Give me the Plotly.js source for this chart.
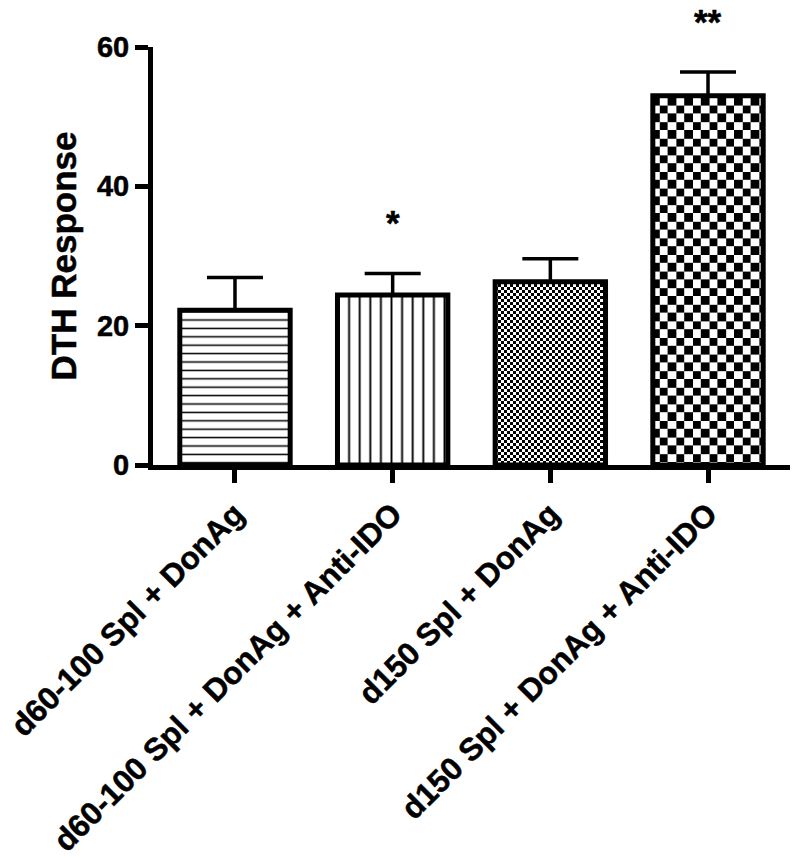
<!DOCTYPE html>
<html>
<head>
<meta charset="utf-8">
<script src="https://cdn.plot.ly/plotly-3.0.1.min.js"></script>
<style>
  html, body { margin: 0; padding: 0; background: #fff; }
  #chart { width: 800px; height: 862px; }
  #chart svg text { stroke: #000; stroke-width: 0.5px; }
</style>
</head>
<body>
<div id="chart"></div>
<script>
// ---- data ----
const categories = [
  "d60-100 Spl + DonAg",
  "d60-100 Spl + DonAg + Anti-IDO",
  "d150 Spl + DonAg",
  "d150 Spl + DonAg + Anti-IDO"
];
const means = [22.2, 24.4, 26.3, 53.0];
const errPlus = [4.7, 3.1, 3.3, 3.4];
const errMinus = [0, 0, 0, 0];
const stars = ["", "*", "", "**"];
const yTicks = [0, 20, 40, 60];

// ---- styles ----
const FONT = "Liberation Sans, Arial, Helvetica, sans-serif";
const patternShapes = ["-", "|", "+", "+"];
const patternSizes = [8.4, 10.6, 6, 16.6];
const checkerSquares = [null, null, 3, 8.3];

const trace = {
  type: "bar",
  x: categories,
  y: means,
  width: 0.7,
  marker: {
    color: "#ffffff",
    line: { color: "#000000", width: 5 },
    pattern: {
      shape: patternShapes,
      size: patternSizes,
      solidity: 0.18,
      fgcolor: "#000000",
      bgcolor: "#ffffff",
      fillmode: "replace"
    }
  },
  error_y: {
    type: "data",
    symmetric: false,
    array: errPlus,
    arrayminus: errMinus,
    color: "#000000",
    thickness: 3.5,
    width: 28
  },
  hoverinfo: "none",
  cliponaxis: false
};

const annotations = categories.map((c, i) => ({
  x: c, y: means[i] + errPlus[i],
  xref: "x", yref: "y",
  text: stars[i],
  showarrow: false,
  yanchor: "bottom",
  yshift: 29,
  font: { family: FONT, size: 35, color: "#000", weight: "bold" }
})).filter(a => a.text);

const layout = {
  width: 800, height: 862,
  margin: { l: 153, r: 10, t: 47, b: 397 },
  paper_bgcolor: "#ffffff",
  plot_bgcolor: "#ffffff",
  showlegend: false,
  font: { family: FONT, color: "#000", weight: "bold" },
  xaxis: {
    type: "category",
    range: [-0.52, 3.52],
    showline: true, linecolor: "#000", linewidth: 5,
    ticks: "outside", ticklen: 13, tickwidth: 5, tickcolor: "#000",
    tickangle: -45,
    tickfont: { family: FONT, size: 31.5, color: "#000", weight: "bold" },
    showgrid: false, zeroline: false,
    fixedrange: true
  },
  yaxis: {
    range: [0, 60],
    tickvals: yTicks,
    ticktext: yTicks.map(String),
    showline: true, linecolor: "#000", linewidth: 5,
    ticks: "outside", ticklen: 13, tickwidth: 5, tickcolor: "#000",
    tickfont: { family: FONT, size: 29, color: "#000", weight: "bold" },
    showgrid: false, zeroline: false,
    title: { text: "DTH Response", font: { family: FONT, size: 35, color: "#000", weight: "bold" }, standoff: 11 },
    fixedrange: true
  },
  annotations: annotations
};

function checkerize(gd) {
  const paths = gd.querySelectorAll(".barlayer .trace .point path");
  paths.forEach((p, i) => {
    const s = checkerSquares[i];
    if (!s) return;
    const fill = p.style.fill || p.getAttribute("fill") || "";
    const m = fill.match(/#([^"')]+)/);
    if (!m) return;
    const pat = document.getElementById(m[1]);
    if (!pat || pat.getAttribute("data-checker") === String(s)) return;
    const NS = "http://www.w3.org/2000/svg";
    while (pat.firstChild) pat.removeChild(pat.firstChild);
    pat.setAttribute("width", 2 * s);
    pat.setAttribute("height", 2 * s);
    pat.setAttribute("patternUnits", "userSpaceOnUse");
    pat.removeAttribute("patternTransform");
    const mk = (x, y, w, h, c) => {
      const r = document.createElementNS(NS, "rect");
      r.setAttribute("x", x); r.setAttribute("y", y);
      r.setAttribute("width", w); r.setAttribute("height", h);
      r.setAttribute("fill", c);
      r.setAttribute("shape-rendering", "crispEdges");
      pat.appendChild(r);
    };
    mk(0, 0, 2 * s, 2 * s, "#ffffff");
    mk(0, 0, s, s, "#000000");
    mk(s, s, s, s, "#000000");
    pat.setAttribute("data-checker", String(s));
  });
}

const gd = document.getElementById("chart");
Plotly.newPlot(gd, [trace], layout, { displayModeBar: false, staticPlot: true })
  .then(() => {
    checkerize(gd);
    gd.on && gd.on("plotly_afterplot", () => checkerize(gd));
  });
</script>
</body>
</html>
